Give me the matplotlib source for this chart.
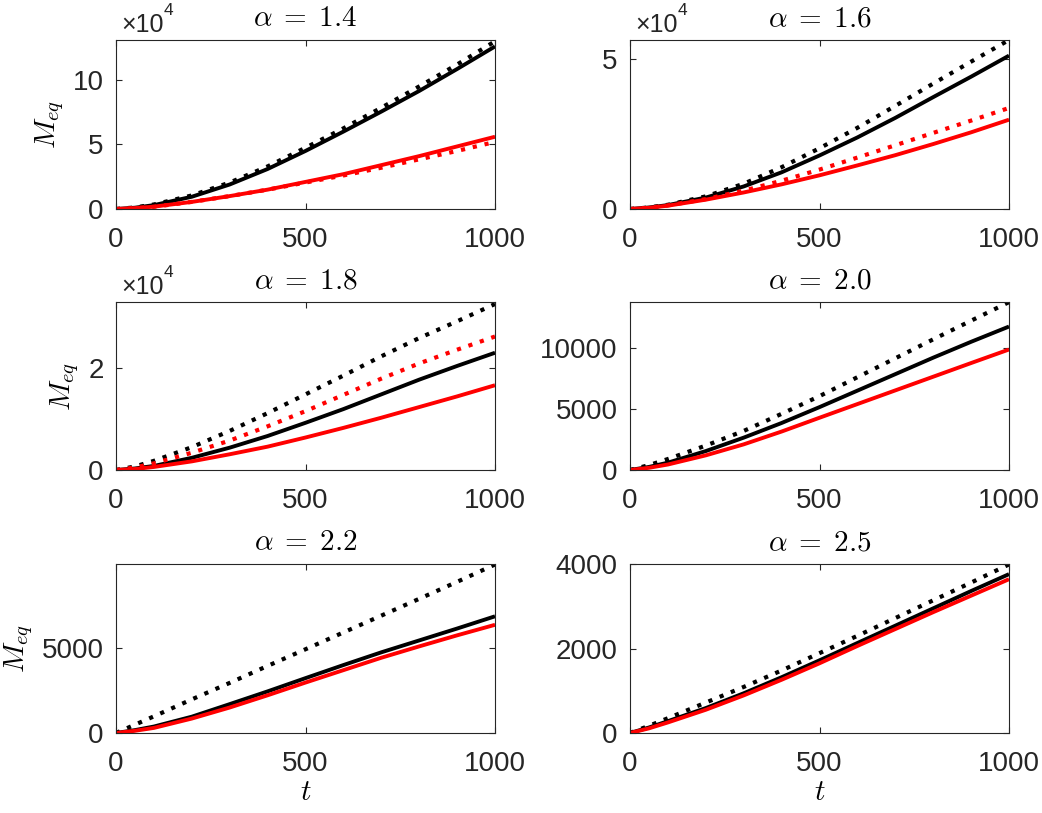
import matplotlib
matplotlib.use("Agg")
import matplotlib.pyplot as plt
from matplotlib.ticker import FuncFormatter

plt.rcParams['font.family'] = ['Liberation Sans', 'DejaVu Sans']
plt.rcParams['mathtext.fontset'] = 'cm'

# ---------------- data ----------------
t = [0, 50, 100, 200, 300, 400, 500, 600, 700, 800, 900, 1000]

alphas = ["1.4", "1.6", "1.8", "2.0", "2.2", "2.5"]

# alpha = 1.4
a14_black = [0, 1000, 3000, 9500, 19000, 31000, 45000, 60000, 75500, 91500, 108500, 126000]
a14_black_dot = [0, 1200, 3500, 10500, 20500, 33000, 47500, 62500, 78500, 95000, 112000, 130000]
a14_red = [0, 700, 1800, 5500, 10000, 15000, 21000, 27000, 34000, 41000, 48500, 56000]
a14_red_dot = [0, 700, 1700, 5500, 10000, 15000, 20500, 26000, 32000, 38500, 45000, 52000]

# alpha = 1.6
a16_black = [0, 500, 1300, 3800, 7500, 12200, 17800, 23800, 30300, 37200, 44000, 51000]
a16_black_dot = [0, 500, 1400, 4200, 8400, 13900, 20200, 27000, 34300, 41700, 49000, 56200]
a16_red = [0, 400, 1100, 3100, 5500, 8200, 11200, 14500, 17900, 21600, 25500, 29700]
a16_red_dot = [0, 400, 1200, 3300, 6100, 9400, 13100, 17100, 21200, 25300, 29400, 33600]

# alpha = 1.8
a18_black = [0, 300, 800, 2400, 4400, 6700, 9300, 12000, 14900, 17800, 20500, 23100]
a18_black_dot = [0, 700, 1800, 4500, 7700, 11200, 14900, 18600, 22400, 26000, 29300, 32700]
a18_red = [0, 200, 600, 1700, 3100, 4600, 6400, 8300, 10300, 12400, 14500, 16700]
a18_red_dot = [0, 500, 1300, 3400, 5800, 8600, 11600, 14800, 18000, 21000, 23700, 26300]

# alpha = 2.0
a20_black = [0, 250, 600, 1550, 2650, 3850, 5150, 6500, 7850, 9200, 10500, 11750]
a20_black_dot = [0, 400, 900, 2000, 3200, 4600, 6050, 7600, 9150, 10700, 12230, 13750]
a20_red = [0, 180, 450, 1200, 2100, 3150, 4280, 5400, 6520, 7640, 8760, 9870]

# alpha = 2.2
a22_black = [0, 170, 380, 960, 1700, 2450, 3230, 4000, 4750, 5450, 6150, 6870]
a22_black_dot = [0, 490, 980, 1980, 2950, 3950, 4930, 5920, 6910, 7900, 8900, 9920]
a22_red = [0, 130, 300, 850, 1500, 2220, 2970, 3700, 4430, 5100, 5750, 6370]

# alpha = 2.5
a25_black = [0, 130, 280, 590, 940, 1320, 1720, 2130, 2540, 2950, 3360, 3760]
a25_black_dot = [0, 170, 350, 720, 1090, 1480, 1890, 2300, 2720, 3140, 3560, 3990]
a25_red = [0, 110, 250, 550, 890, 1260, 1650, 2060, 2460, 2860, 3250, 3640]

panels = [
    dict(bs=a14_black, bd=a14_black_dot, rs=a14_red, rd=a14_red_dot,
         ylim=131000, yticks=[0, 50000, 100000], exp=True),
    dict(bs=a16_black, bd=a16_black_dot, rs=a16_red, rd=a16_red_dot,
         ylim=56200, yticks=[0, 50000], exp=True),
    dict(bs=a18_black, bd=a18_black_dot, rs=a18_red, rd=a18_red_dot,
         ylim=33100, yticks=[0, 20000], exp=True),
    dict(bs=a20_black, bd=a20_black_dot, rs=a20_red, rd=None,
         ylim=13760, yticks=[0, 5000, 10000], exp=False),
    dict(bs=a22_black, bd=a22_black_dot, rs=a22_red, rd=None,
         ylim=9950, yticks=[0, 5000], exp=False),
    dict(bs=a25_black, bd=a25_black_dot, rs=a25_red, rd=None,
         ylim=4000, yticks=[0, 2000, 4000], exp=False),
]

# ---------------- figure ----------------
W, H = 1042, 813
fig = plt.figure(figsize=(W / 100, H / 100), dpi=100)

boxes = [(116, 40, 495, 209), (630, 40, 1009, 209),
         (116, 302, 495, 470), (630, 302, 1009, 470),
         (116, 564, 495, 733), (630, 564, 1009, 733)]

axcol = (0.15, 0.15, 0.15)
lw = 2.8
lwd = 3.0
dot = (0, (1, 1.9))

for i, (p, box, a) in enumerate(zip(panels, boxes, alphas)):
    x0, y0, x1, y1 = box
    ax = fig.add_axes([x0 / W, (H - y1) / H, (x1 - x0) / W, (y1 - y0) / H])
    ax.plot(t, p['bs'], color='k', lw=lw, solid_capstyle='butt', solid_joinstyle='round')
    ax.plot(t, p['bd'], color='k', lw=lwd, linestyle=dot, dash_capstyle='butt')
    ax.plot(t, p['rs'], color=(1, 0, 0), lw=lw, solid_capstyle='butt', solid_joinstyle='round')
    if p['rd'] is not None:
        ax.plot(t, p['rd'], color=(1, 0, 0), lw=lwd, linestyle=dot, dash_capstyle='butt')

    ax.set_xlim(0, 1000)
    ax.set_ylim(0, p['ylim'])
    ax.set_xticks([0, 500, 1000])
    ax.set_yticks(p['yticks'])
    if p['exp']:
        ax.yaxis.set_major_formatter(FuncFormatter(lambda v, pos: f"{v / 1e4:g}"))
        ax.annotate('\u00d710', xy=(0, 1), xycoords='axes fraction',
                    xytext=(3.6, 5.5), textcoords='offset points', ha='left', va='baseline',
                    fontsize=18, color=axcol)
        ax.annotate('4', xy=(0, 1), xycoords='axes fraction',
                    xytext=(34, 18), textcoords='offset points', ha='left', va='baseline',
                    fontsize=12.5, color=axcol)
    else:
        ax.yaxis.set_major_formatter(FuncFormatter(lambda v, pos: f"{v:g}"))

    ax.tick_params(axis='both', which='both', direction='in', top=True, right=True,
                   length=4, width=0.8, colors=axcol, labelsize=20)
    ax.tick_params(axis='x', pad=13)
    ax.tick_params(axis='y', pad=9)
    for s in ax.spines.values():
        s.set_color(axcol)
        s.set_linewidth(0.8)

    ax.set_title(r'$\alpha\;=\;' + a + '$', fontsize=21, pad=10)
    if i % 2 == 0:
        ax.set_ylabel(r'$M_{eq}$', fontsize=21, labelpad=5)
    if i >= 4:
        ax.set_xlabel(r'$t$', fontsize=21, labelpad=1)

fig.savefig("out.png", dpi=100)
